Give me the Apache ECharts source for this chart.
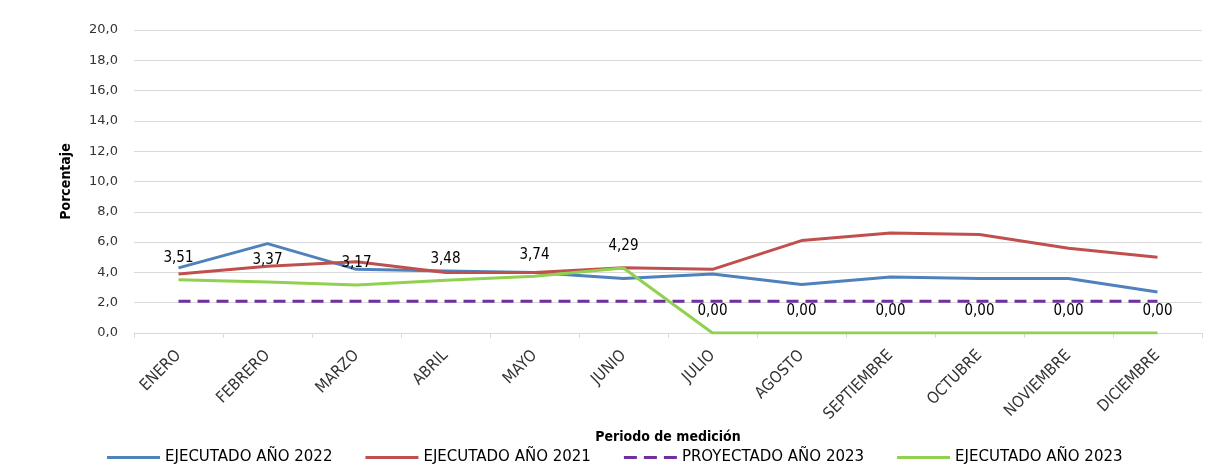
<!DOCTYPE html>
<html>
<head>
<meta charset="utf-8">
<script src="https://cdn.jsdelivr.net/npm/echarts@6/dist/echarts.min.js"></script>
<style>
  html, body { margin: 0; padding: 0; background: #fff; }
  #chart { width: 1211px; height: 465px; }
</style>
</head>
<body>
<div id="chart"></div>
<script>
// datos
const meses = ['ENERO', 'FEBRERO', 'MARZO', 'ABRIL', 'MAYO', 'JUNIO', 'JULIO', 'AGOSTO', 'SEPTIEMBRE', 'OCTUBRE', 'NOVIEMBRE', 'DICIEMBRE']
const ejecutado2022 = [4.3, 5.9, 4.2, 4.1, 4.0, 3.6, 3.9, 3.2, 3.7, 3.6, 3.6, 2.7]
const ejecutado2021 = [3.9, 4.4, 4.7, 4.0, 4.0, 4.3, 4.2, 6.1, 6.6, 6.5, 5.6, 5.0]
const proyectado2023 = [2.1, 2.1, 2.1, 2.1, 2.1, 2.1, 2.1, 2.1, 2.1, 2.1, 2.1, 2.1]
const ejecutado2023 = [3.51, 3.37, 3.17, 3.48, 3.74, 4.29, 0, 0, 0, 0, 0, 0]

const fuente = 'DejaVu Sans'
const angosta = 'DejaVu Sans Condensed'
const coma = (v, d) => v.toFixed(d).replace('.', ',')

const chart = echarts.init(document.getElementById('chart'))
const option = {
  animation: false,
  textStyle: { fontFamily: fuente },
  grid: { left: 134, right: 9, top: 30, bottom: 132 },
  legend: {
    bottom: 0,
    left: 107,
    padding: 0,
    itemWidth: 53,
    itemHeight: 3,
    itemGap: 33,
    icon: 'rect',
    textStyle: { fontFamily: fuente, fontSize: 15, color: '#000' },
    data: [
      { name: 'EJECUTADO AÑO 2022' },
      { name: 'EJECUTADO AÑO 2021' },
      { name: 'PROYECTADO AÑO 2023', icon: 'path://M0,0H13V3H0Z M20,0H33V3H20Z M40,0H53V3H40Z' },
      { name: 'EJECUTADO AÑO 2023' }
    ]
  },
  xAxis: {
    type: 'category',
    data: meses,
    boundaryGap: true,
    name: 'Periodo de medición',
    nameLocation: 'middle',
    nameGap: 97,
    nameTextStyle: { fontWeight: 'bold', fontSize: 14, color: '#000', fontFamily: angosta },
    axisLine: { lineStyle: { color: '#d9d9d9' } },
    axisTick: { show: true, length: 5, lineStyle: { color: '#d9d9d9' } },
    axisLabel: { rotate: 45, fontSize: 16, color: '#333', margin: 20, fontFamily: angosta }
  },
  yAxis: {
    type: 'value',
    min: 0,
    max: 20,
    interval: 2,
    name: 'Porcentaje',
    nameLocation: 'middle',
    nameGap: 61,
    nameTextStyle: { fontWeight: 'bold', fontSize: 14, color: '#000', fontFamily: angosta },
    axisLine: { show: false },
    axisTick: { show: false },
    splitLine: { lineStyle: { color: '#d9d9d9' } },
    axisLabel: { fontSize: 13, color: '#333', margin: 16, formatter: v => coma(v, 1) }
  },
  series: [
    {
      name: 'EJECUTADO AÑO 2022',
      type: 'line',
      data: ejecutado2022,
      symbol: 'none',
      itemStyle: { color: '#4F81BD' },
      lineStyle: { width: 3, color: '#4F81BD' }
    },
    {
      name: 'EJECUTADO AÑO 2021',
      type: 'line',
      data: ejecutado2021,
      symbol: 'none',
      itemStyle: { color: '#C0504D' },
      lineStyle: { width: 3, color: '#C0504D' }
    },
    {
      name: 'PROYECTADO AÑO 2023',
      type: 'line',
      data: proyectado2023,
      symbol: 'none',
      itemStyle: { color: '#7030A0' },
      lineStyle: { width: 3, color: '#7030A0', type: [12, 7] }
    },
    {
      name: 'EJECUTADO AÑO 2023',
      type: 'line',
      data: ejecutado2023,
      symbol: 'circle',
      symbolSize: 0.1,
      showSymbol: true,
      itemStyle: { color: '#92D050' },
      lineStyle: { width: 3, color: '#92D050' },
      label: {
        show: true,
        position: 'top',
        distance: 14,
        fontSize: 15,
        color: '#000',
        fontFamily: angosta,
        formatter: p => coma(p.value, 2)
      }
    }
  ]
}
option && chart.setOption(option)
</script>
</body>
</html>
